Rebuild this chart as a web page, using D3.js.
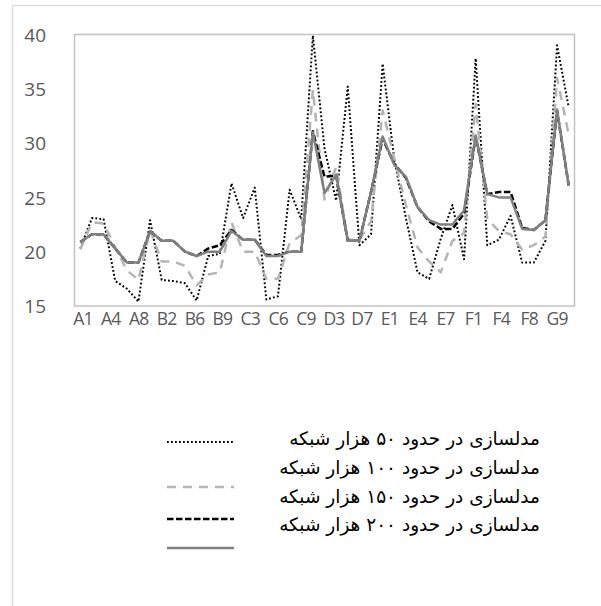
<!DOCTYPE html>
<html><head><meta charset="utf-8">
<script src="https://cdn.jsdelivr.net/npm/d3@7"></script>
<style>html,body{margin:0;padding:0;background:#fff}</style>
</head><body>
<script>
// ---- data ----
const categories = ["1","2","3","4","5","6","7","8","9","10","11","12","13","14","15","16","17","18","19","20","21","22","23","24","25","26","27","28","29","30","31","32","33","34","35","36","37","38","39","40","41","42","43"];
const tickLabels = ["A1","A4","A8","B2","B6","B9","C3","C6","C9","D3","D7","E1","E4","E7","F1","F4","F8","G9"];
const yTicks = [15,20,25,30,35,40];
const s50  = [20.3,23.1,23.0,17.3,16.6,15.4,22.9,17.4,17.3,17.1,15.5,19.6,19.8,26.3,23.1,25.9,15.6,15.9,25.7,23.0,39.9,29.5,24.7,35.2,20.6,21.6,37.3,28.5,23.1,18.1,17.5,21.2,24.3,19.3,37.8,20.6,21.1,23.3,19.0,19.0,21.0,39.0,33.3];
const s100 = [20.2,22.7,22.6,20.4,18.3,17.4,22.0,19.1,19.1,18.7,16.9,17.9,18.1,22.7,20.0,20.0,17.5,17.5,20.8,21.5,34.9,24.8,27.8,21.1,21.1,22.8,33.0,28.6,24.3,20.4,19.1,18.1,21.0,21.7,33.6,23.0,21.9,21.6,20.2,20.6,21.4,36.0,30.8];
const s150 = [20.9,21.6,21.6,20.3,19.0,19.0,21.9,21.0,21.0,20.0,19.6,20.3,20.6,22.0,21.1,21.1,19.7,19.7,20.0,20.0,31.1,26.9,27.0,21.0,21.0,25.5,30.4,28.1,26.8,24.1,22.8,22.1,22.1,23.5,30.6,25.3,25.5,25.5,22.2,22.0,22.9,33.0,26.1];
const s200 = [20.9,21.6,21.6,20.3,19.0,19.0,21.9,21.0,21.0,20.0,19.6,20.0,20.0,21.9,21.1,21.1,19.6,19.6,20.0,20.0,31.0,25.4,27.1,21.0,21.0,25.5,30.6,28.0,26.9,24.1,22.9,22.5,22.5,23.8,30.7,25.3,25.0,25.0,22.1,22.0,22.9,33.1,26.1];
const seriesNames = ["مدلسازی در حدود ۵۰ هزار شبکه","مدلسازی در حدود ۱۰۰ هزار شبکه","مدلسازی در حدود ۱۵۰ هزار شبکه","مدلسازی در حدود ۲۰۰ هزار شبکه"];

// ---- styles ----
const styles = [
  {color:"#000000", width:2,    dash:"1.8 2.2"},
  {color:"#b4b4b4", width:2.5,  dash:"9 7"},
  {color:"#000000", width:2.5,  dash:"6.5 2.5"},
  {color:"#808080", width:2.5,  dash:null}
];
const seriesVals = [s50, s100, s150, s200];

const W = 601, H = 606;
const plot = {l:74.5, r:574.5, t:34.5, b:306};
const svg = d3.select("body").append("svg").attr("width",W).attr("height",H);
svg.append("rect").attr("x",0).attr("y",0).attr("width",W).attr("height",H).attr("fill","#fff");
svg.append("rect").attr("x",12.5).attr("y",5.5).attr("width",620).attr("height",640)
  .attr("fill","none").attr("stroke","#d9d9d9").attr("stroke-width",1.3);

const x = d3.scalePoint().domain(categories).range([plot.l, plot.r]).padding(0.5);
const y = d3.scaleLinear().domain([15,40]).range([plot.b, plot.t]);
const xl = d3.scaleBand().domain(tickLabels).range([69, 571]);

svg.append("rect").attr("x",plot.l).attr("y",plot.t).attr("width",plot.r-plot.l).attr("height",plot.b-plot.t)
  .attr("fill","none").attr("stroke","#c3c3c3").attr("stroke-width",1.5);

// y axis labels
const yAxis = d3.axisLeft(y).tickValues(yTicks).tickSize(0).tickPadding(0);
const gy = svg.append("g").attr("transform","translate(46,0)").call(yAxis);
gy.select(".domain").remove();
gy.selectAll("text").attr("fill","#595959").attr("font-size","19px").attr("font-family","'Open Sans', sans-serif").attr("dy","0.36em");

// x axis labels
const xAxis = d3.axisBottom(xl).tickSize(0).tickPadding(0);
const gx = svg.append("g").attr("transform","translate(0,313)").call(xAxis);
gx.select(".domain").remove();
gx.selectAll("text").attr("fill","#595959").attr("font-size","17.5px").attr("letter-spacing","-0.8px").attr("font-family","'Open Sans', sans-serif");

const line = d3.line().x((d,i)=>x(categories[i])).y(d=>y(d));
seriesVals.forEach((vals,k)=>{
  const st = styles[k];
  const p = svg.append("path").datum(vals).attr("d",line).attr("fill","none")
    .attr("stroke",st.color).attr("stroke-width",st.width).attr("stroke-linejoin","round");
  if(st.dash) p.attr("stroke-dasharray",st.dash);
});

// legend
const legTextY = [445,474,503,531];
const legLineY = [442,487,519,548];
seriesNames.forEach((name,k)=>{
  const st = styles[k];
  const l = svg.append("line").attr("x1",167).attr("x2",234).attr("y1",legLineY[k]).attr("y2",legLineY[k])
    .attr("stroke",st.color).attr("stroke-width",st.width);
  if(st.dash) l.attr("stroke-dasharray",st.dash);
  svg.append("text").attr("x",540).attr("y",legTextY[k]).attr("text-anchor","end")
    .attr("font-family","'DejaVu Sans', sans-serif").attr("font-size","18.5px").attr("fill","#000")
    .text(name);
});
</script>
</body></html>
